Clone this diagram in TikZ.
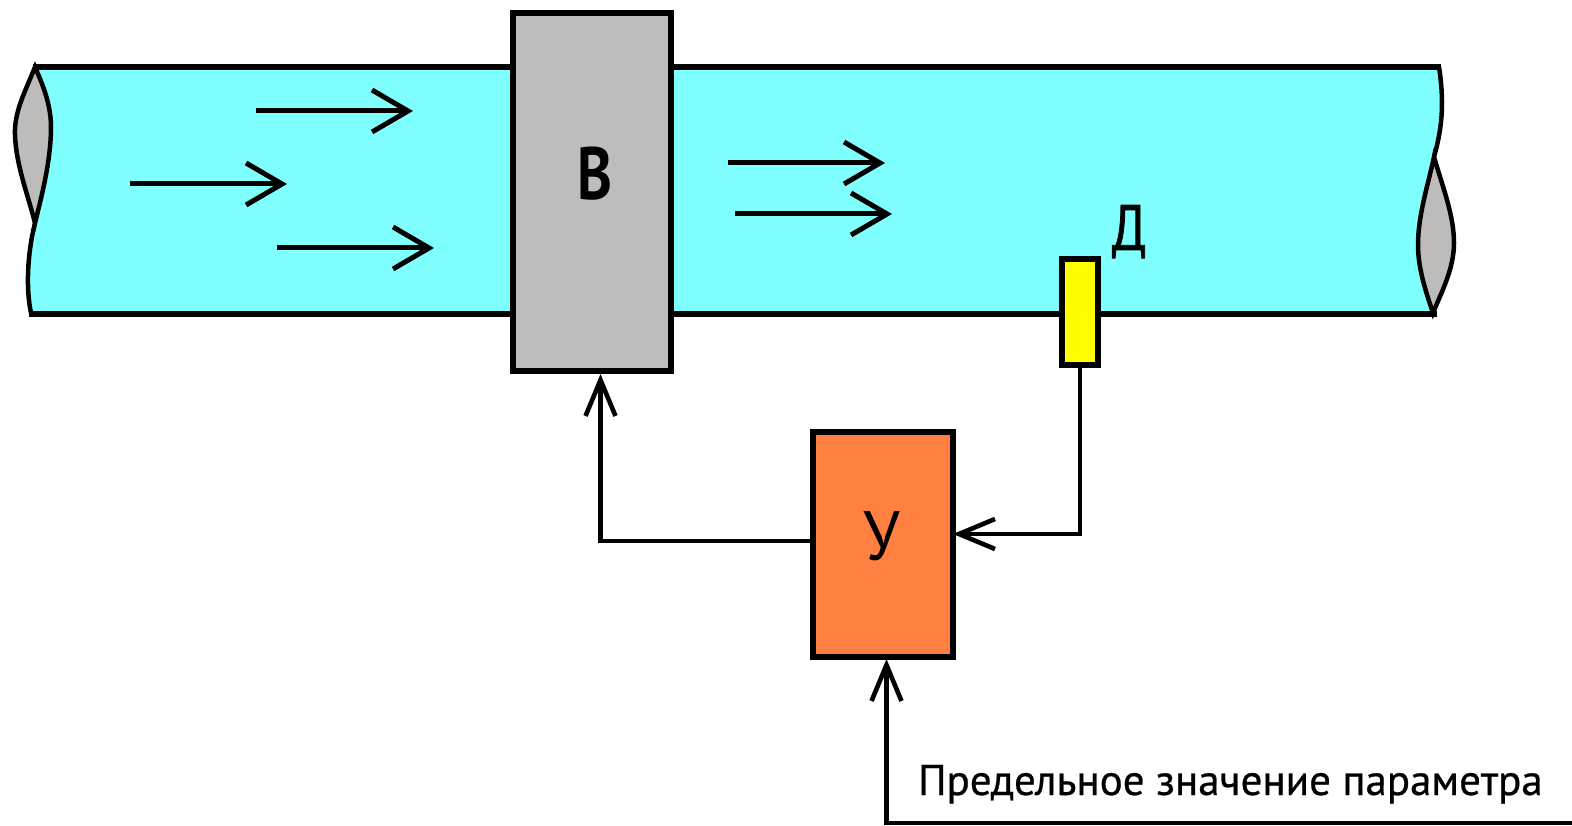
\documentclass[tikz,border=0pt]{standalone}
\usepackage{fontspec}
\setmainfont{PT Sans}
\usetikzlibrary{arrows.meta,positioning}
\tikzset{
  ln/.style={line width=5.5pt,black},
  box/.style={draw=black,line width=5.5pt,inner sep=0pt,outer sep=0pt,anchor=north west},
  flow/.style={line width=5pt,black,-{Straight Barb[length=36pt,width=42pt,line width=5pt]}},
  link/.style={line width=4.6pt,black,-{Straight Barb[length=36pt,width=30pt,line width=4.6pt]}},
  lens/.style={draw=black,line width=4.5pt,fill=lensgray},
  lab/.style={inner sep=0pt,text=black,anchor=base}
}
\definecolor{pipecyan}{HTML}{80FFFF}
\definecolor{lensgray}{HTML}{BEBBBB}
\definecolor{vgray}{HTML}{BDBDBD}
\definecolor{uorange}{HTML}{FF8040}
\definecolor{dyellow}{HTML}{FFFF00}
\begin{document}
\begin{tikzpicture}[x=1pt,y=-1pt]
\useasboundingbox[fill=white] (0,0) rectangle (1572,826);
% pipe
\fill[pipecyan] (35,67) -- (1439,67) .. controls (1444,100) and (1443,125) .. (1434,157)
  .. controls (1422,190) and (1416,250) .. (1433,313) -- (31,313)
  .. controls (26,290) and (27,255) .. (35,223) .. controls (46,185) and (60,130) .. (35,67) -- cycle;
\draw[line width=4.5pt] (1439,67) .. controls (1444,100) and (1443,125) .. (1434,157);
\draw[line width=4.5pt] (35,223) .. controls (27,255) and (26,290) .. (31,313);
\draw[lens] (35,67) .. controls (25,92) and (14,112) .. (15,135) .. controls (16,165) and (28,195) .. (35,223)
  .. controls (42,195) and (51,160) .. (51,127) .. controls (51,105) and (43,85) .. (35,67) -- cycle;
\draw[lens] (1434,157) .. controls (1428,185) and (1418,215) .. (1418,245) .. controls (1418,270) and (1427,295) .. (1433,313)
  .. controls (1440,295) and (1454,270) .. (1454,243) .. controls (1454,215) and (1442,185) .. (1434,157) -- cycle;
\draw[ln] (33,67) -- (1441,67);
\draw[ln] (29,314) -- (1437,314);
% boxes
\node[box,fill=vgray,minimum width=158pt,minimum height=358pt] (v) at (513,13) {};
\node[box,fill=dyellow,minimum width=36pt,minimum height=106pt] (d) at (1062,259) {};
\node[box,fill=uorange,minimum width=140pt,minimum height=225pt] (u) at (813,432) {};
\node[lab] (vt) at (595,200) {\scalebox{0.8}[1]{\bfseries\fontsize{74}{74}\selectfont В}};
\node[lab] (ut) at (882,560) {\scalebox{0.95}[1]{\fontsize{70}{70}\selectfont У}};
\node[lab] (dt) at (1129,250) {\scalebox{0.8}[1]{\fontsize{64}{64}\addfontfeature{FakeBold=1.5}\selectfont Д}};
\node[lab,anchor=base west] (limit) at (918,795) {\fontsize{43}{43}\addfontfeature{FakeBold=0.6}\selectfont Предельное значение параметра};
% flow arrows
\coordinate (a1s) at (256,111); \coordinate (a1e) at (413,111);
\coordinate (a2s) at (130,184); \coordinate (a2e) at (287,184);
\coordinate (a3s) at (277,248); \coordinate (a3e) at (434,248);
\coordinate (a4s) at (728,163); \coordinate (a4e) at (885,163);
\coordinate (a5s) at (735,214); \coordinate (a5e) at (892,214);
\foreach \n in {1,...,5} \draw[flow] (a\n s) -- (a\n e);
% feedback
\coordinate (vin) at (600.5,374);
\coordinate (ubot) at (886.5,659);
\coordinate (lim) at (1572,823);
\draw[link] (u.west |- 0,541) -| (vin);
\draw[link] (d.south) |- (u.east |- 0,534);
\draw[link] (lim) -| (ubot);
\end{tikzpicture}
\end{document}
